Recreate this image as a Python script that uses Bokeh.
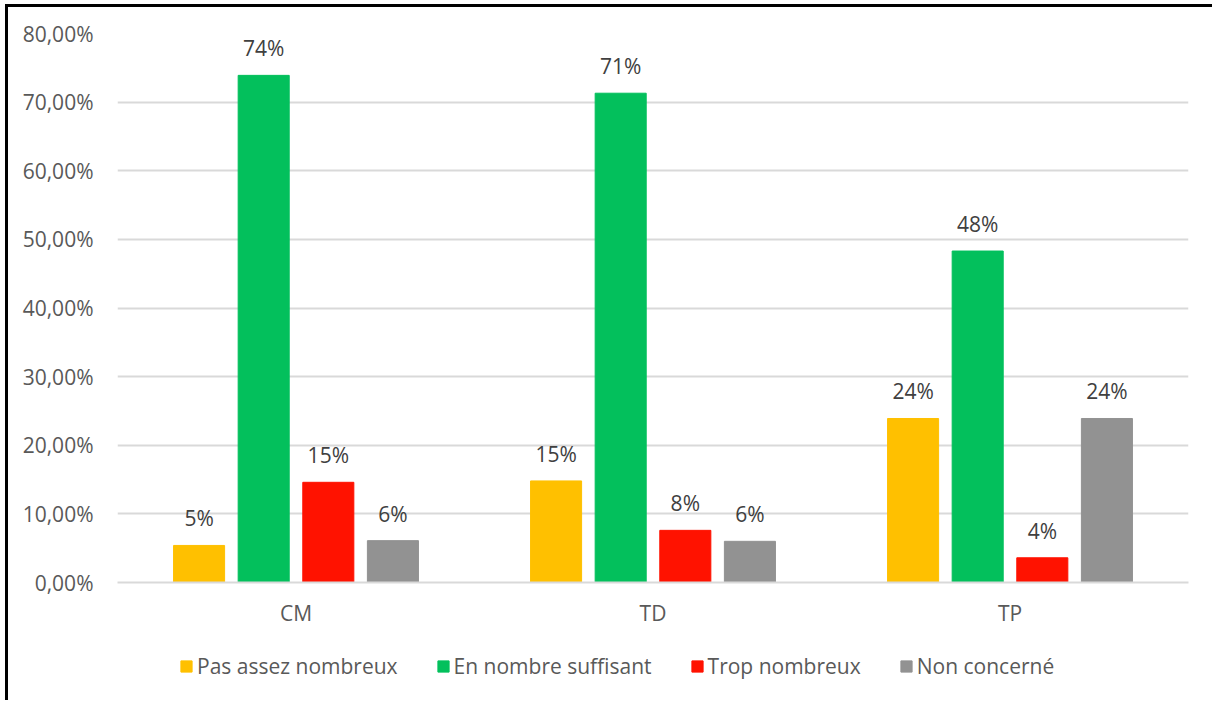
from bokeh.plotting import figure
from bokeh.layouts import column
from bokeh.models import ColumnDataSource, FactorRange, FixedTicker, Legend, LegendItem, Range1d
from bokeh.core.properties import value
from bokeh.transform import dodge
from bokeh.embed import file_html
from bokeh.resources import INLINE

categories = ["CM", "TD", "TP"]
series = ["Pas assez nombreux", "En nombre suffisant", "Trop nombreux", "Non concerné"]
pas_assez = [5.4, 14.8, 23.9]
suffisant = [73.9, 71.3, 48.3]
trop = [14.6, 7.6, 3.6]
non_concerne = [6.1, 6.0, 23.9]
colors = ["#FFC000", "#03C05C", "#FF1200", "#929292"]
y_ticks = [0, 10, 20, 30, 40, 50, 60, 70, 80]
y_tick_labels = ["0,00%", "10,00%", "20,00%", "30,00%", "40,00%", "50,00%", "60,00%", "70,00%", "80,00%"]

values = [pas_assez, suffisant, trop, non_concerne]
FONT = "Open Sans"
FS = "21px"
W = 1204

p = figure(x_range=FactorRange(*categories), y_range=(0, 80),
           width=W, height=635, output_backend="svg", toolbar_location=None,
           min_border_left=109, min_border_right=W - 1180, min_border_top=26, min_border_bottom=60)
p.outline_line_color = None
p.background_fill_color = "white"
p.border_fill_color = "white"

# legend strip (separate figure so the legend is not clipped by the plot frame)
lg = figure(x_range=FactorRange(*categories), y_range=Range1d(0, 80), width=W, height=58,
            output_backend="svg", toolbar_location=None,
            x_axis_location=None, y_axis_location=None,
            min_border_left=0, min_border_right=0, min_border_top=0, min_border_bottom=0)
lg.grid.visible = False
lg.outline_line_color = None
lg.border_fill_color = "white"

step = 0.181
width = 0.143
offsets = [-1.5 * step, -0.5 * step, 0.5 * step, 1.5 * step]
items = []
for name, vals, col, off in zip(series, values, colors, offsets):
    src = ColumnDataSource(dict(cat=categories, v=vals, lab=[f"{round(v)}%" for v in vals]))
    p.vbar(x=dodge("cat", off, range=p.x_range), top="v", width=width, source=src,
           fill_color=col, line_color=col)
    p.text(x=dodge("cat", off, range=p.x_range), y="v", text="lab", source=src,
           text_align="center", text_baseline="alphabetic", y_offset=-27,
           text_font_size=FS, text_color="#404040", text_font=value(FONT))
    proxy = lg.vbar(x="cat", top="v", width=width, source=src,
                    fill_color=col, line_color=col, visible=False)
    items.append(LegendItem(label=name, renderers=[proxy]))

p.yaxis.ticker = FixedTicker(ticks=y_ticks)
p.yaxis.major_label_overrides = {t: l for t, l in zip(y_ticks, y_tick_labels)}
p.yaxis.axis_line_color = None
p.yaxis.major_tick_line_color = None
p.yaxis.minor_tick_line_color = None
p.yaxis.major_label_standoff = 18
p.yaxis.major_label_text_font_size = FS
p.yaxis.major_label_text_color = "#595959"
p.yaxis.major_label_text_font = FONT

p.xaxis.axis_line_color = "#D9D9D9"
p.xaxis.axis_line_width = 2
p.xaxis.major_tick_line_color = None
p.xaxis.minor_tick_line_color = None
p.xaxis.major_label_standoff = 10
p.xaxis.major_label_text_font_size = FS
p.xaxis.major_label_text_color = "#595959"
p.xaxis.major_label_text_font = FONT

p.xgrid.grid_line_color = None
p.ygrid.grid_line_color = "#D9D9D9"
p.ygrid.grid_line_width = 2

legend = Legend(items=items, orientation="horizontal", location=(62, 20),
                glyph_width=14, glyph_height=14, label_standoff=4, spacing=38,
                padding=0, margin=0, border_line_color=None, background_fill_alpha=0,
                inactive_fill_alpha=0,
                label_text_font_size=FS, label_text_color="#595959", label_text_font=FONT)
lg.add_layout(legend, "center")

layout = column(p, lg, spacing=0,
                styles={"border-left": "3px solid black", "border-top": "3px solid black",
                        "margin-left": "5px", "margin-top": "4px"})

open("out.html", "w").write(file_html(layout, INLINE))
